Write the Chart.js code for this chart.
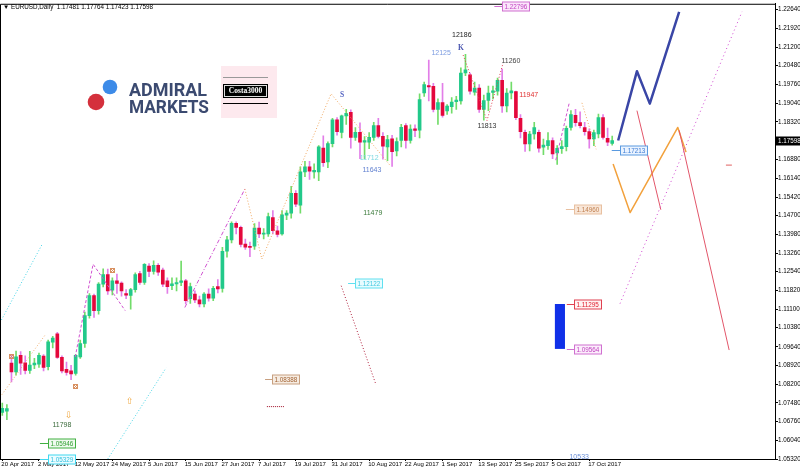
<!DOCTYPE html>
<html>
<head>
<meta charset="utf-8">
<script src="https://cdn.jsdelivr.net/npm/chart.js@4.4.0/dist/chart.umd.min.js"></script>
<style>
  html, body { margin: 0; padding: 0; background: #fff; }
  #wrap { width: 800px; height: 473px; position: relative; }
</style>
</head>
<body>
<div id="wrap"><canvas id="chart"></canvas></div>
<script>
// trading days shown on the chart
const dates = [
  "20 Apr 2017","21 Apr 2017","24 Apr 2017","25 Apr 2017","26 Apr 2017","27 Apr 2017","28 Apr 2017",
  "1 May 2017","2 May 2017","3 May 2017","4 May 2017","5 May 2017","8 May 2017","9 May 2017","10 May 2017","11 May 2017","12 May 2017",
  "15 May 2017","16 May 2017","17 May 2017","18 May 2017","19 May 2017","22 May 2017","23 May 2017","24 May 2017","25 May 2017","26 May 2017",
  "29 May 2017","30 May 2017","31 May 2017",
  "1 Jun 2017","2 Jun 2017","5 Jun 2017","6 Jun 2017","7 Jun 2017","8 Jun 2017","9 Jun 2017","12 Jun 2017","13 Jun 2017","14 Jun 2017",
  "15 Jun 2017","16 Jun 2017","19 Jun 2017","20 Jun 2017","21 Jun 2017","22 Jun 2017","23 Jun 2017","26 Jun 2017","27 Jun 2017","28 Jun 2017",
  "29 Jun 2017","30 Jun 2017",
  "3 Jul 2017","4 Jul 2017","5 Jul 2017","6 Jul 2017","7 Jul 2017","10 Jul 2017","11 Jul 2017","12 Jul 2017","13 Jul 2017","14 Jul 2017",
  "17 Jul 2017","18 Jul 2017","19 Jul 2017","20 Jul 2017","21 Jul 2017","24 Jul 2017","25 Jul 2017","26 Jul 2017","27 Jul 2017","28 Jul 2017","31 Jul 2017",
  "1 Aug 2017","2 Aug 2017","3 Aug 2017","4 Aug 2017","7 Aug 2017","8 Aug 2017","9 Aug 2017","10 Aug 2017","11 Aug 2017","14 Aug 2017",
  "15 Aug 2017","16 Aug 2017","17 Aug 2017","18 Aug 2017","21 Aug 2017","22 Aug 2017","23 Aug 2017","24 Aug 2017","25 Aug 2017","28 Aug 2017",
  "29 Aug 2017","30 Aug 2017","31 Aug 2017",
  "1 Sep 2017","4 Sep 2017","5 Sep 2017","6 Sep 2017","7 Sep 2017","8 Sep 2017","11 Sep 2017","12 Sep 2017","13 Sep 2017","14 Sep 2017",
  "15 Sep 2017","18 Sep 2017","19 Sep 2017","20 Sep 2017","21 Sep 2017","22 Sep 2017","25 Sep 2017","26 Sep 2017","27 Sep 2017","28 Sep 2017","29 Sep 2017",
  "2 Oct 2017","3 Oct 2017","4 Oct 2017","5 Oct 2017","6 Oct 2017","9 Oct 2017","10 Oct 2017","11 Oct 2017","12 Oct 2017","13 Oct 2017",
  "16 Oct 2017","17 Oct 2017","18 Oct 2017","19 Oct 2017","20 Oct 2017","23 Oct 2017","24 Oct 2017"
];

// daily OHLC
const opens = [
  1.0712,1.0716,1.0902,1.0868,1.0932,1.0903,1.0873,
  1.0895,1.0898,1.0929,1.0888,1.0982,1.1015,1.0924,1.0878,1.0872,1.0862,
  1.0926,1.0978,1.1085,1.1162,1.1104,1.1206,1.1243,1.1183,1.1219,1.1210,
  1.1170,1.1163,1.1185,
  1.1247,1.1213,1.1276,1.1255,1.1279,1.1260,1.1219,1.1200,1.1207,1.1213,
  1.1219,1.1150,1.1168,1.1146,1.1130,1.1168,1.1152,1.1197,1.1190,1.1333,
  1.1377,1.1441,
  1.1425,1.1361,1.1352,1.1352,1.1422,1.1399,1.1400,1.1463,1.1412,1.1400,
  1.1472,1.1480,1.1556,1.1511,1.1639,1.1658,1.1639,1.1639,1.1731,1.1677,1.1748,
  1.1840,1.1791,1.1855,1.1868,1.1772,1.1791,1.1753,1.1753,1.1772,1.1817,
  1.1776,1.1735,1.1766,1.1720,1.1760,1.1817,1.1760,1.1805,1.1800,1.1943,
  1.1972,1.1969,1.1880,
  1.1906,1.1874,1.1890,1.1910,1.1912,1.2020,1.2013,1.1946,1.1962,1.1880,
  1.1914,1.1945,1.1950,1.1992,1.1893,1.1943,1.1948,1.1845,1.1791,1.1747,1.1785,
  1.1791,1.1734,1.1740,1.1760,1.1712,1.1728,1.1736,1.1810,1.1857,1.1829,
  1.1810,1.1794,1.1766,1.1785,1.1848,1.1768,1.17481
];
const highs = [
  1.0748,1.0742,1.0932,1.0948,1.0946,1.0930,1.0947,
  1.0920,1.0940,1.0935,1.0990,1.1005,1.1020,1.0930,1.0906,1.0893,1.0935,
  1.0990,1.1098,1.1170,1.1168,1.1212,1.1265,1.1264,1.1230,1.1245,1.1215,
  1.1185,1.1190,1.1250,
  1.1255,1.1285,1.1285,1.1296,1.1285,1.1268,1.1230,1.1230,1.1230,1.1295,
  1.1225,1.1210,1.1180,1.1160,1.1174,1.1188,1.1198,1.1224,1.1348,1.1390,
  1.1446,1.1446,
  1.1430,1.1380,1.1368,1.1440,1.1445,1.1420,1.1480,1.1490,1.1430,1.1490,
  1.1490,1.1583,1.1567,1.1658,1.1680,1.1680,1.1670,1.1740,1.1778,1.1755,1.1845,
  1.1848,1.1858,1.1880,1.1878,1.1810,1.1828,1.1775,1.1790,1.1830,1.1845,
  1.1790,1.1780,1.1780,1.1770,1.1822,1.1825,1.1820,1.1820,1.1940,1.1985,
  1.2070,1.1980,1.1920,
  1.1980,1.1898,1.1925,1.1930,1.2040,1.2092,1.2020,1.1985,1.1975,1.1935,
  1.1970,1.1970,1.2000,1.2035,1.1960,1.1985,1.1950,1.1860,1.1800,1.1795,1.1830,
  1.1800,1.1765,1.1790,1.1770,1.1740,1.1760,1.1815,1.1875,1.1880,1.1870,
  1.1830,1.1805,1.1800,1.1862,1.1860,1.1808,1.17764
];
const lows = [
  1.0700,1.0684,1.0829,1.0855,1.0858,1.0860,1.0862,
  1.0880,1.0885,1.0872,1.0875,1.0960,1.0920,1.0864,1.0855,1.0838,1.0855,
  1.0920,1.0962,1.1075,1.1078,1.1090,1.1195,1.1166,1.1165,1.1170,1.1160,
  1.1150,1.1110,1.1175,
  1.1205,1.1205,1.1235,1.1245,1.1240,1.1196,1.1170,1.1185,1.1180,1.1200,
  1.1130,1.1132,1.1135,1.1118,1.1118,1.1140,1.1142,1.1172,1.1175,1.1310,
  1.1365,1.1400,
  1.1350,1.1340,1.1312,1.1340,1.1385,1.1380,1.1390,1.1400,1.1388,1.1395,
  1.1455,1.1460,1.1505,1.1480,1.1620,1.1610,1.1615,1.1605,1.1660,1.1655,1.1735,
  1.1780,1.1770,1.1822,1.1730,1.1760,1.1690,1.1690,1.1728,1.1760,1.1770,
  1.1688,1.1682,1.1660,1.1700,1.1735,1.1730,1.1750,1.1775,1.1770,1.1930,
  1.1912,1.1870,1.1822,
  1.1850,1.1860,1.1865,1.1880,1.1900,1.2010,1.1938,1.1935,1.1868,1.1838,
  1.1875,1.1920,1.1935,1.1868,1.1870,1.1920,1.1840,1.1770,1.1718,1.1720,1.1765,
  1.1715,1.1705,1.1725,1.1690,1.1668,1.1710,1.1720,1.1800,1.1815,1.1808,
  1.1780,1.1730,1.1740,1.1770,1.1765,1.1740,1.17423
];
const closes = [
  1.0727,1.0726,1.0868,1.0926,1.0901,1.0873,1.0894,
  1.0902,1.0932,1.0885,1.0984,1.0998,1.0924,1.0872,1.0866,1.0860,1.0932,
  1.0977,1.1085,1.1162,1.1104,1.1206,1.1243,1.1180,1.1219,1.1209,1.1180,
  1.1164,1.1185,1.1243,
  1.1213,1.1282,1.1255,1.1279,1.1252,1.1206,1.1196,1.1207,1.1212,1.1219,
  1.1142,1.1197,1.1145,1.1130,1.1168,1.1152,1.1190,1.1188,1.1333,1.1377,
  1.1441,1.1425,
  1.1359,1.1349,1.1348,1.1422,1.1400,1.1402,1.1467,1.1412,1.1398,1.1473,
  1.1480,1.1556,1.1514,1.1639,1.1658,1.1642,1.1645,1.1735,1.1674,1.1748,1.1840,
  1.1794,1.1855,1.1865,1.1772,1.1791,1.1753,1.1760,1.1772,1.1817,1.1776,
  1.1738,1.1763,1.1717,1.1756,1.1811,1.1760,1.1804,1.1799,1.1918,1.1975,
  1.1966,1.1880,1.1906,
  1.1857,1.1893,1.1908,1.1916,1.2020,1.2032,1.1950,1.1962,1.1880,1.1914,
  1.1943,1.1951,1.1992,1.1893,1.1943,1.1951,1.1848,1.1794,1.1747,1.1785,1.1810,
  1.1730,1.1742,1.1760,1.1708,1.1730,1.1736,1.1807,1.1860,1.1829,1.1817,
  1.1794,1.1766,1.1790,1.1848,1.1772,1.1753,1.17598
];

const futureBars = 35;

// price axis labels (1.17600 sits under the current price box)
const priceTicks = [1.2264,1.2192,1.2120,1.2048,1.1976,1.1904,1.1832,1.1688,1.1614,1.1542,1.1470,
  1.1398,1.1326,1.1254,1.1182,1.1110,1.1038,1.0964,1.0892,1.0820,1.0748,1.0676,1.0604,1.0532];

// wave / projection lines: bar index and price of each vertex
const blueWaveX = [134.3, 138.4, 141.2, 147.6];
const blueWaveY = [1.1760, 1.2027, 1.1902, 1.2256];
const orangeWaveX = [133.2, 136.9, 147.3, 149.1];
const orangeWaveY = [1.1669, 1.1482, 1.1810, 1.1715];
const redLineAX = [138.4, 143.6];
const redLineAY = [1.1875, 1.1493];
const redLineBX = [147.6, 158.5];
const redLineBY = [1.1799, 1.0952];
const magentaLongX = [134.7, 161.3];
const magentaLongY = [1.1131, 1.2256];
const redStubX = [157.8, 159.1];
const redStubY = [1.1665, 1.1665];
const darkRedX = [73.9, 81.5];
const darkRedY = [1.1200, 1.0818];
const darkRedFlatX = [57.7, 61.6];
const darkRedFlatY = [1.0734, 1.0734];
const cyanAX = [-0.5, 8.7];
const cyanAY = [1.1058, 1.1360];
const cyanBX = [23.0, 35.7];
const cyanBY = [1.0532, 1.0883];
const zigOrange1X = [-0.1, 9.3];
const zigOrange1Y = [1.0780, 1.1009];
const zigMagenta1X = [15.9, 19.8, 26.8];
const zigMagenta1Y = [1.0925, 1.1283, 1.1104];
const zigMagenta2X = [39.8, 52.9];
const zigMagenta2Y = [1.1116, 1.1573];
const zigOrange2X = [52.9, 56.6, 71.7, 84.5];
const zigOrange2Y = [1.1573, 1.1303, 1.1940, 1.1665];
const zigRedX = [100.5, 105.7, 109.2];
const zigRedY = [1.2089, 1.1837, 1.2058];
const zigMagenta3X = [120.7, 123.6];
const zigMagenta3Y = [1.1684, 1.1902];
const zigOrange3X = [126.4, 129.5];
const zigOrange3Y = [1.1905, 1.1726];

// text notes on the chart
const noteText = ["12186", "K", "12125", "11260", "11947", "11813", "S", "11712", "11643", "11479", "11798", "10533"];
const noteIdx = [100.2, 100.0, 95.7, 110.9, 114.8, 105.7, 74.1, 80.0, 80.6, 80.8, 13.0, 125.8];
const notePrice = [1.2165, 1.2115, 1.2096, 1.2066, 1.1936, 1.1814, 1.1936, 1.1692, 1.1646, 1.1482, 1.0664, 1.0538];

// price level boxes
const boxValues = [1.22796, 1.17213, 1.14960, 1.11295, 1.09564, 1.12122, 1.08388, 1.05946, 1.05329];
const boxLineIdx = [107.3, 132.9, 122.9, 123.1, 123.1, 75.4, 57.3, 8.2, 8.2];
const boxIdx = [108.9, 134.7, 124.7, 124.7, 124.7, 76.9, 58.8, 10.0, 10.0];

// small markers
const crossIdx = [1.9, 15.9, 23.9];
const crossPrice = [1.0929, 1.0814, 1.1261];
const arrowText = ["\u21E9", "\u21E7"];
const arrowIdx = [14.5, 27.8];
const arrowPrice = [1.0700, 1.0753];

// blue block between the two level boxes
const blockIdx = [120.5, 122.7];
const blockPrice = [1.11295, 1.09564];

// ---- styles ----
const BULL_BODY = "#22c98a", BULL_WICK = "#72dc6a";
const BEAR_BODY = "#e4083c", BEAR_WICK = "#e27ee8";
const SANS = "'Liberation Sans', Arial, sans-serif";

const lineStyles = [
  [blueWaveX, blueWaveY, "#3a46a6", 2.5, []],
  [orangeWaveX, orangeWaveY, "#f2a13c", 1.5, []],
  [redLineAX, redLineAY, "#e2566a", 1, []],
  [redLineBX, redLineBY, "#e2566a", 1, []],
  [magentaLongX, magentaLongY, "#d046d0", 1, [1, 3]],
  [redStubX, redStubY, "#e06060", 1, []],
  [darkRedX, darkRedY, "#b0203c", 1, [1, 2]],
  [darkRedFlatX, darkRedFlatY, "#a01028", 1, [1, 1]],
  [cyanAX, cyanAY, "#46d4e6", 1, [1, 2]],
  [cyanBX, cyanBY, "#46d4e6", 1, [1, 2]],
  [zigOrange1X, zigOrange1Y, "#f0b070", 1, [1, 2]],
  [zigMagenta1X, zigMagenta1Y, "#d052d0", 1, [3, 2]],
  [zigMagenta2X, zigMagenta2Y, "#d052d0", 1, [4, 2, 1, 2]],
  [zigOrange2X, zigOrange2Y, "#f0a860", 1, [1, 2]],
  [zigRedX, zigRedY, "#e04050", 1, [1, 2]],
  [zigMagenta3X, zigMagenta3Y, "#d052d0", 1, [3, 2]],
  [zigOrange3X, zigOrange3Y, "#f0a860", 1, [1, 2]]
];

const noteColors = ["#222", "#4a55b0", "#7b9be0", "#444", "#e03030", "#333", "#5060c0", "#7dd8e0", "#6080d0", "#3a7a3a", "#3a6a3a", "#6a8fd8"];
const boxColors = [
  ["#d070d0", "#c040c0", "#fbe6fb"],
  ["#5a9ae0", "#3a7bd5", "#eaf3ff"],
  ["#e8c0a0", "#c08050", "#f8e6d8"],
  ["#e04050", "#e02030", "#fff2f2"],
  ["#d070d0", "#c040c0", "#fbeefb"],
  ["#60e0f0", "#40c8e0", "#e8fcff"],
  ["#c8a080", "#a06030", "#f6ece2"],
  ["#40b040", "#30a030", "#effaef"],
  ["#40d8f0", "#30c0e0", "#ebfcff"]
];

const N = dates.length + futureBars;
const labels = dates.concat(Array(futureBars).fill(""));
const bull = closes.map((c, i) => c >= opens[i]);

// lines, notes, boxes, logo, frame - all placed through the chart's scales
const overlay = {
  id: "overlay",
  afterDatasetsDraw(chart) {
    const { ctx, chartArea: a, scales } = chart;
    const px = i => scales.x.getPixelForValue(i);
    const py = v => scales.y.getPixelForValue(v);

    ctx.save();
    ctx.beginPath();
    ctx.rect(a.left, a.top, a.right - a.left, a.bottom - a.top);
    ctx.clip();
    lineStyles.forEach(([xs, ys, color, width, dash]) => {
      ctx.strokeStyle = color;
      ctx.lineWidth = width;
      ctx.setLineDash(dash);
      ctx.lineJoin = "round";
      ctx.beginPath();
      xs.forEach((x, i) => {
        if (i === 0) ctx.moveTo(px(x), py(ys[i]));
        else ctx.lineTo(px(x), py(ys[i]));
      });
      ctx.stroke();
    });
    ctx.restore();
  },
  afterDraw(chart) {
    const { ctx, chartArea: a, scales } = chart;
    const px = i => scales.x.getPixelForValue(i);
    const py = v => scales.y.getPixelForValue(v);
    ctx.save();
    ctx.setLineDash([]);

    // frame left/top
    ctx.strokeStyle = "#000";
    ctx.lineWidth = 1;
    ctx.beginPath();
    ctx.moveTo(a.left + 0.5, a.bottom);
    ctx.lineTo(a.left + 0.5, a.top + 0.5);
    ctx.lineTo(a.right, a.top + 0.5);
    ctx.stroke();

    // blue block
    ctx.fillStyle = "#1030e8";
    const bx0 = px(blockIdx[0]), bx1 = px(blockIdx[1]);
    const by0 = py(blockPrice[0]), by1 = py(blockPrice[1]);
    ctx.fillRect(bx0, by0, bx1 - bx0, by1 - by0);

    // level boxes
    ctx.font = "6.3px " + SANS;
    ctx.textBaseline = "middle";
    ctx.textAlign = "left";
    boxValues.forEach((v, i) => {
      const [border, text, fillc] = boxColors[i];
      const y = Math.round(py(v)) + 0.5;
      const x0 = px(boxLineIdx[i]), x1 = Math.round(px(boxIdx[i])) + 0.5;
      ctx.strokeStyle = border;
      ctx.beginPath();
      ctx.moveTo(x0, y);
      ctx.lineTo(x1, y);
      ctx.stroke();
      ctx.fillStyle = fillc;
      ctx.fillRect(x1, y - 4.5, 27, 9);
      ctx.strokeRect(x1, y - 4.5, 27, 9);
      ctx.fillStyle = text;
      ctx.fillText(v.toFixed(5), x1 + 2, y + 0.5);
    });

    // notes
    ctx.textAlign = "center";
    noteText.forEach((t, i) => {
      ctx.font = (t === "K" || t === "S")
        ? "bold 7.5px 'Liberation Serif', serif"
        : "7px " + SANS;
      ctx.fillStyle = noteColors[i];
      ctx.fillText(t, px(noteIdx[i]), py(notePrice[i]));
    });

    // x-box markers
    ctx.strokeStyle = "#d89060";
    crossIdx.forEach((ix, i) => {
      const x = Math.round(px(ix)) + 0.5, y = Math.round(py(crossPrice[i])) + 0.5;
      ctx.strokeRect(x - 2, y - 2, 4, 4);
      ctx.beginPath();
      ctx.moveTo(x - 2, y - 2); ctx.lineTo(x + 2, y + 2);
      ctx.moveTo(x + 2, y - 2); ctx.lineTo(x - 2, y + 2);
      ctx.stroke();
    });

    // arrows
    ctx.font = "9px 'DejaVu Sans', sans-serif";
    ctx.fillStyle = "#f0a840";
    arrowText.forEach((t, i) => ctx.fillText(t, px(arrowIdx[i]), py(arrowPrice[i])));

    // header
    ctx.textAlign = "left";
    ctx.fillStyle = "#000";
    ctx.font = "6.3px " + SANS;
    const last = dates.length - 1;
    ctx.fillText("\u25BC EURUSD,Daily  " + [opens[last], highs[last], lows[last], closes[last]].map(v => v.toFixed(5)).join(" "), 3, 7);

    // current price on the axis
    const cp = Math.round(py(closes[last]));
    ctx.fillStyle = "#000";
    ctx.fillRect(a.right + 1, cp - 4.5, 25, 9);
    ctx.fillStyle = "#fff";
    ctx.fillText(closes[last].toFixed(5), a.right + 3, cp + 0.5);

    // Admiral Markets logo
    ctx.fillStyle = "#3d8be8";
    ctx.beginPath(); ctx.arc(110, 87, 7.3, 0, Math.PI * 2); ctx.fill();
    ctx.fillStyle = "#d4303c";
    ctx.beginPath(); ctx.arc(96, 102, 8.3, 0, Math.PI * 2); ctx.fill();
    ctx.fillStyle = "#3b4a70";
    ctx.font = "bold 19px Roboto, 'Liberation Sans', sans-serif";
    ctx.textBaseline = "alphabetic";
    ctx.fillText("ADMIRAL", 129, 96, 78);
    ctx.fillText("MARKETS", 129, 113, 80);

    // Costa3000 badge
    ctx.fillStyle = "#fde9ee";
    ctx.fillRect(221, 66, 56, 52);
    ctx.strokeStyle = "#999";
    ctx.beginPath(); ctx.moveTo(223, 77.5); ctx.lineTo(268, 77.5); ctx.stroke();
    ctx.strokeStyle = "#000";
    ctx.beginPath(); ctx.moveTo(223, 103.5); ctx.lineTo(268, 103.5); ctx.stroke();
    ctx.fillStyle = "#000";
    ctx.fillRect(223, 84, 45, 14);
    ctx.strokeStyle = "#ddd";
    ctx.strokeRect(224.5, 85.5, 42, 11);
    ctx.fillStyle = "#fff";
    ctx.font = "bold 7.5px 'Liberation Serif', serif";
    ctx.textAlign = "center";
    ctx.textBaseline = "middle";
    ctx.fillText("Costa3000", 245.5, 91.5);

    ctx.restore();
  }
};

new Chart(document.getElementById("chart").getContext("2d"), {
  type: "bar",
  data: {
    labels: labels,
    datasets: [
      {
        label: "wick",
        data: lows.map((l, i) => [l, highs[i]]),
        backgroundColor: bull.map(b => b ? BULL_WICK : BEAR_WICK),
        barThickness: 1,
        grouped: false,
        order: 2
      },
      {
        label: "body",
        data: opens.map((o, i) => [o, closes[i]]),
        backgroundColor: bull.map(b => b ? BULL_BODY : BEAR_BODY),
        barThickness: 3,
        minBarLength: 1,
        grouped: false,
        order: 1
      }
    ]
  },
  options: {
    responsive: true,
    maintainAspectRatio: false,
    animation: false,
    layout: { padding: 0 },
    plugins: { legend: { display: false }, tooltip: { enabled: false } },
    scales: {
      x: {
        type: "category",
        offset: true,
        grid: { drawOnChartArea: false, offset: false, tickLength: 2, color: "#000" },
        border: { display: true, color: "#000" },
        ticks: { autoSkip: false, maxRotation: 0, minRotation: 0, align: "start", labelOffset: -1, padding: 0, color: "#000", font: { family: SANS, size: 6 } },
        afterBuildTicks: s => { s.ticks = s.ticks.filter(t => t.value % 8 === 0 && t.value < dates.length); },
        afterFit: s => { s.height = 14; }
      },
      y: {
        position: "right",
        min: 1.0532,
        max: 1.22869,
        grid: { drawOnChartArea: false, tickLength: 3, color: "#000" },
        border: { display: true, color: "#000" },
        ticks: { padding: 0, color: "#000", font: { family: SANS, size: 6.3 }, callback: v => v.toFixed(5) },
        afterBuildTicks: s => { s.ticks = priceTicks.map(v => ({ value: v })); },
        afterFit: s => { s.width = 25; }
      }
    }
  },
  plugins: [overlay]
});
</script>
</body>
</html>
